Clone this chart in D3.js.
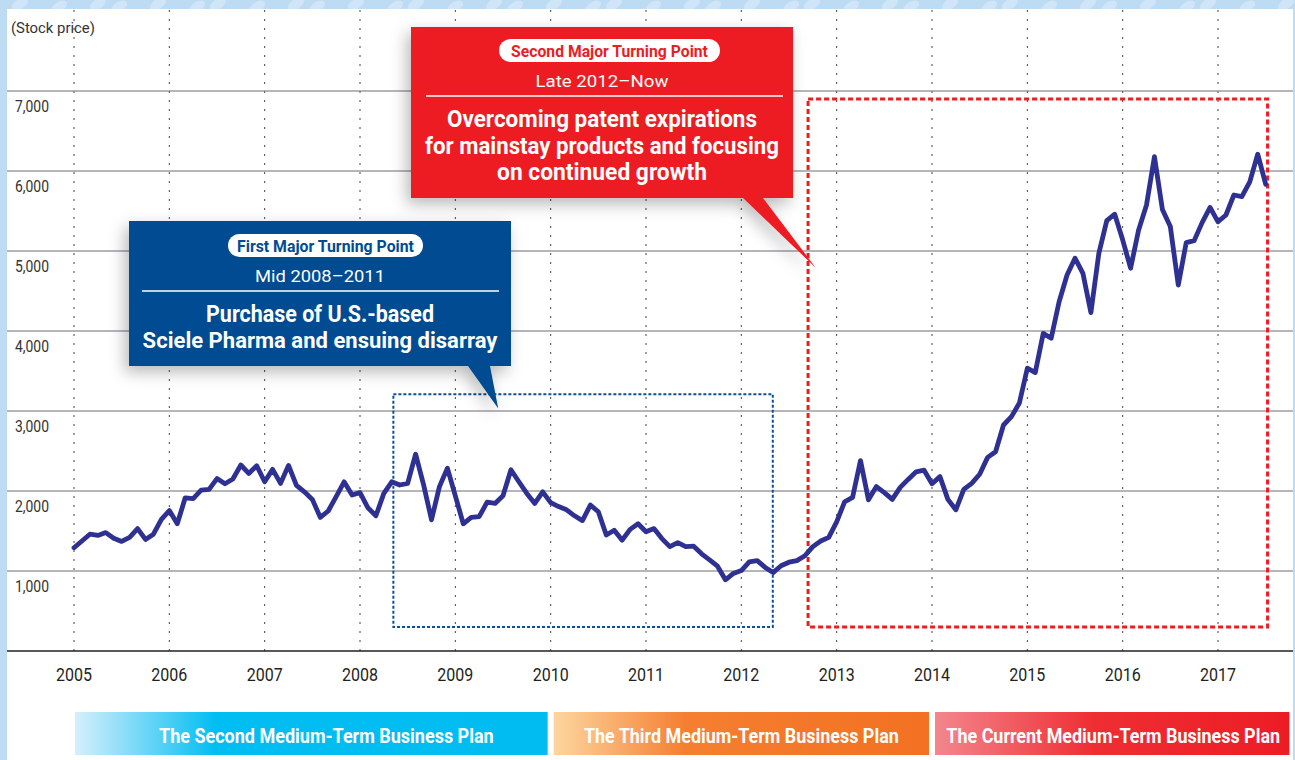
<!DOCTYPE html>
<html lang="en">
<head>
  <meta charset="UTF-8">
  <title>Stock Price and Medium-Term Business Plans</title>
  <style>
    body { margin: 0; background: #bddbf2; }
    svg { display: block; }
    .cond { font-family: "Liberation Sans Narrow", "Roboto", sans-serif; }
    .reg { font-family: "Liberation Sans Narrow", "Roboto", sans-serif; }
  </style>
</head>
<body>
  <div id="chart"></div>

  <script src="https://d3js.org/d3.v7.min.js"></script>
  <script>
    // Data (monthly, Jan 2005 - Jul 2017)
    const startYear = 2005;
    const years = [2005, 2006, 2007, 2008, 2009, 2010, 2011, 2012, 2013, 2014, 2015, 2016, 2017];
    const yTicks = [1000, 2000, 3000, 4000, 5000, 6000, 7000];
    const prices = [
      1290, 1375, 1460, 1445, 1480, 1410, 1370, 1420, 1530, 1395, 1460, 1645,
      1755, 1590, 1915, 1905, 2010, 2020, 2155, 2090, 2150, 2325, 2220, 2315,
      2115, 2270, 2095, 2320, 2070, 1990, 1895, 1670, 1750, 1930, 2115, 1950,
      1980, 1790, 1690, 1970, 2115, 2075, 2095, 2460, 2080, 1640, 2055, 2285,
      1940, 1590, 1670, 1680, 1860, 1845, 1940, 2265, 2115, 1970, 1845, 1990,
      1855, 1805, 1765, 1690, 1630, 1825, 1740, 1450, 1510, 1385, 1520, 1590,
      1490, 1530, 1405, 1305, 1355, 1305, 1310, 1215, 1140, 1060, 890, 970,
      1005, 1115, 1130, 1045, 980, 1065, 1110, 1130, 1190, 1305, 1375, 1420,
      1615, 1865, 1920, 2380, 1890, 2055, 1980, 1895, 2045, 2145, 2240, 2260,
      2090, 2180, 1895, 1765, 2020, 2095, 2210, 2420, 2490, 2825, 2930, 3100,
      3535, 3480, 3970, 3910, 4365, 4700, 4910, 4720, 4230, 4970, 5380, 5460,
      5140, 4785, 5260, 5575, 6180, 5520, 5305, 4575, 5105, 5130, 5355, 5545,
      5365, 5450, 5700, 5680, 5865, 6210, 5835
    ];

    const plans = ['The Second Medium-Term Business Plan', 'The Third Medium-Term Business Plan', 'The Current Medium-Term Business Plan'];
    const planStart = [2005, 2010, 2014];
    const planEnd = [2010, 2014, 2017.78];

    // highlighted periods: [year from, year to, value low, value high]
    const firstPeriod = [2008.35, 2012.33, 300, 3210];
    const secondPeriod = [2012.70, 2017.52, 300, 6900];
    const firstTip = [2009.45, 3030];
    const secondTip = [2012.78, 4790];

    const W = 1295, H = 760;
    const svg = d3.select('#chart').append('svg').attr('width', W).attr('height', H);
    const defs = svg.append('defs');

    const x = d3.scaleLinear().domain([2005, 2017]).range([74, 1218]);
    const y = d3.scaleLinear().domain([0, 7000]).range([651, 91]);

    // squeeze a text horizontally to a given width (keeps its anchor point)
    function fit(sel, w) {
      sel.each(function() {
        const t = d3.select(this);
        const tx = +t.attr('x'), ty = +t.attr('y');
        const len = this.getComputedTextLength();
        const s = len > 0 ? w / len : 1;
        t.attr('x', 0).attr('y', 0).attr('transform', `translate(${tx},${ty}) scale(${s},1)`);
      });
    }

    // background frame
    svg.append('rect').attr('width', W).attr('height', H).attr('fill', '#bddbf2');
    const blobs = svg.append('g').attr('fill', '#d0e5f7');
    d3.range(40).forEach(i => {
      const bx = 20 + i * 33 + (i % 3) * 6, by = 4 + (i % 2) * 3;
      blobs.append('ellipse')
        .attr('cx', bx).attr('cy', by)
        .attr('rx', 9).attr('ry', 5)
        .attr('transform', `rotate(-35 ${bx} ${by})`);
    });
    svg.append('rect').attr('x', 7).attr('y', 9).attr('width', 1286).attr('height', H - 9).attr('fill', '#fff');

    // vertical dotted year lines
    svg.append('g').selectAll('line').data(years).join('line')
      .attr('x1', d => x(d)).attr('x2', d => x(d))
      .attr('y1', 10).attr('y2', y(0))
      .attr('stroke', '#444').attr('stroke-width', 1).attr('stroke-dasharray', '2,7');

    // horizontal grid
    svg.append('g').selectAll('line').data(yTicks).join('line')
      .attr('x1', 7).attr('x2', 1293)
      .attr('y1', d => y(d)).attr('y2', d => y(d))
      .attr('stroke', '#6d6e71').attr('stroke-width', 1.2);

    // x axis baseline
    svg.append('line').attr('x1', 7).attr('x2', 1293).attr('y1', y(0)).attr('y2', y(0))
      .attr('stroke', '#231f20').attr('stroke-width', 1.6);

    // y labels
    svg.append('g').selectAll('text').data(yTicks).join('text')
      .attr('class', 'reg')
      .attr('x', 15).attr('y', d => y(d) + 21)
      .attr('font-size', 17).attr('fill', '#333')
      .text(d => d3.format(',')(d))
      .call(fit, 34);

    svg.append('text').attr('class', 'reg').attr('x', 11).attr('y', 33)
      .attr('font-size', 15).attr('fill', '#333').text('(Stock price)').call(fit, 84);

    // year labels
    svg.append('g').selectAll('text').data(years).join('text')
      .attr('class', 'reg')
      .attr('x', d => x(d)).attr('y', 681)
      .attr('text-anchor', 'middle')
      .attr('font-size', 18).attr('fill', '#231f20')
      .text(d => d)
      .call(fit, 36);

    // highlight boxes
    svg.append('rect')
      .attr('x', x(firstPeriod[0])).attr('y', y(firstPeriod[3]))
      .attr('width', x(firstPeriod[1]) - x(firstPeriod[0]))
      .attr('height', y(firstPeriod[2]) - y(firstPeriod[3]))
      .attr('fill', 'none').attr('stroke', '#0b4f9c').attr('stroke-width', 2)
      .attr('stroke-dasharray', '3,2');

    svg.append('rect')
      .attr('x', x(secondPeriod[0])).attr('y', y(secondPeriod[3]))
      .attr('width', x(secondPeriod[1]) - x(secondPeriod[0]))
      .attr('height', y(secondPeriod[2]) - y(secondPeriod[3]))
      .attr('fill', 'none').attr('stroke', '#ed1c24').attr('stroke-width', 3)
      .attr('stroke-dasharray', '5,3');

    // stock price line
    const line = d3.line()
      .x((d, i) => x(startYear + i / 12))
      .y(d => y(d));

    svg.append('path')
      .datum(prices)
      .attr('d', line)
      .attr('fill', 'none')
      .attr('stroke', '#2e3192')
      .attr('stroke-width', 4.8)
      .attr('stroke-linejoin', 'round')
      .attr('stroke-linecap', 'round');

    // plan bars
    const gradStops = [
      [['0%', '#d6effb'], ['30%', '#00bdf2'], ['100%', '#00bcf1']],
      [['0%', '#fdd6a0'], ['35%', '#f57f30'], ['100%', '#f37021']],
      [['0%', '#f4868d'], ['45%', '#ee2e33'], ['100%', '#ed1c24']]
    ];
    gradStops.forEach((stops, i) => {
      const g = defs.append('linearGradient').attr('id', 'plan' + i);
      stops.forEach(s => g.append('stop').attr('offset', s[0]).attr('stop-color', s[1]));
    });

    const bars = svg.append('g');
    plans.forEach((p, i) => {
      const x0 = x(planStart[i]) + (i === 0 ? 1 : 3);
      const x1 = Math.min(x(planEnd[i]) - 3, 1291);
      bars.append('rect')
        .attr('x', x0).attr('y', 712)
        .attr('width', x1 - x0).attr('height', 43)
        .attr('fill', `url(#plan${i})`);
      bars.append('text')
        .attr('class', 'cond')
        .attr('x', (x0 + x1) / 2 + [15, 0, 1][i]).attr('y', 743)
        .attr('text-anchor', 'middle')
        .attr('font-size', 21).attr('font-weight', 'bold').attr('fill', '#fff')
        .text(p)
        .call(fit, [335, 315, 334][i]);
    });

    // callouts
    const shadow = defs.append('filter').attr('id', 'shadow')
      .attr('x', '-20%').attr('y', '-20%').attr('width', '140%').attr('height', '150%');
    shadow.append('feDropShadow').attr('dx', -4).attr('dy', 6).attr('stdDeviation', 8)
      .attr('flood-color', '#000').attr('flood-opacity', 0.28);

    function callout(o) {
      const g = svg.append('g').attr('filter', 'url(#shadow)');
      const [bx0, by0, bx1, by1] = o.box;
      g.append('path')
        .attr('d', `M${bx0},${by0}H${bx1}V${by1}H${o.base[1]}L${o.tip[0]},${o.tip[1]}L${o.base[0]},${by1}H${bx0}Z`)
        .attr('fill', o.color);
      const t = svg.append('g');
      const cx = (bx0 + bx1) / 2;
      t.append('rect')
        .attr('x', o.pill[0]).attr('y', o.pill[1])
        .attr('width', o.pill[2] - o.pill[0]).attr('height', o.pill[3] - o.pill[1])
        .attr('rx', 11.5).attr('fill', '#fff');
      t.append('text').attr('class', 'cond')
        .attr('x', (o.pill[0] + o.pill[2]) / 2).attr('y', o.pillY)
        .attr('text-anchor', 'middle').attr('font-size', 16).attr('font-weight', 'bold')
        .attr('fill', o.color).text(o.title).call(fit, o.titleW);
      t.append('text').attr('class', 'reg')
        .attr('x', cx).attr('y', o.subY)
        .attr('text-anchor', 'middle').attr('font-size', 17)
        .attr('fill', '#fff').text(o.sub).call(fit, o.subW);
      t.append('line')
        .attr('x1', o.rule[0]).attr('x2', o.rule[1]).attr('y1', o.ruleY).attr('y2', o.ruleY)
        .attr('stroke', '#fff').attr('stroke-width', 1.5);
      o.lines.forEach((l, i) => {
        t.append('text').attr('class', 'cond')
          .attr('x', cx).attr('y', o.lineY[i])
          .attr('text-anchor', 'middle').attr('font-size', 23).attr('font-weight', 'bold')
          .attr('fill', '#fff').text(l).call(fit, o.lineW[i]);
      });
    }

    callout({
      color: '#034b91',
      box: [129, 221, 511, 366],
      base: [468, 490],
      tip: [x(firstTip[0]), y(firstTip[1])],
      pill: [228, 234, 423, 257], pillY: 252,
      title: 'First Major Turning Point', titleW: 177,
      sub: 'Mid 2008\u20132011', subY: 282, subW: 130,
      rule: [142, 499], ruleY: 291,
      lines: ['Purchase of U.S.-based', 'Sciele Pharma and ensuing disarray'],
      lineY: [322, 348], lineW: [228, 355]
    });

    callout({
      color: '#ed1c24',
      box: [411, 27, 793, 198],
      base: [743, 763],
      tip: [x(secondTip[0]), y(secondTip[1])],
      pill: [499, 39, 720, 62], pillY: 57,
      title: 'Second Major Turning Point', titleW: 197,
      sub: 'Late 2012\u2013Now', subY: 87, subW: 133,
      rule: [426, 783], ruleY: 96,
      lines: ['Overcoming patent expirations', 'for mainstay products and focusing', 'on continued growth'],
      lineY: [127, 154, 180], lineW: [310, 354, 210]
    });
  </script>
</body>
</html>
